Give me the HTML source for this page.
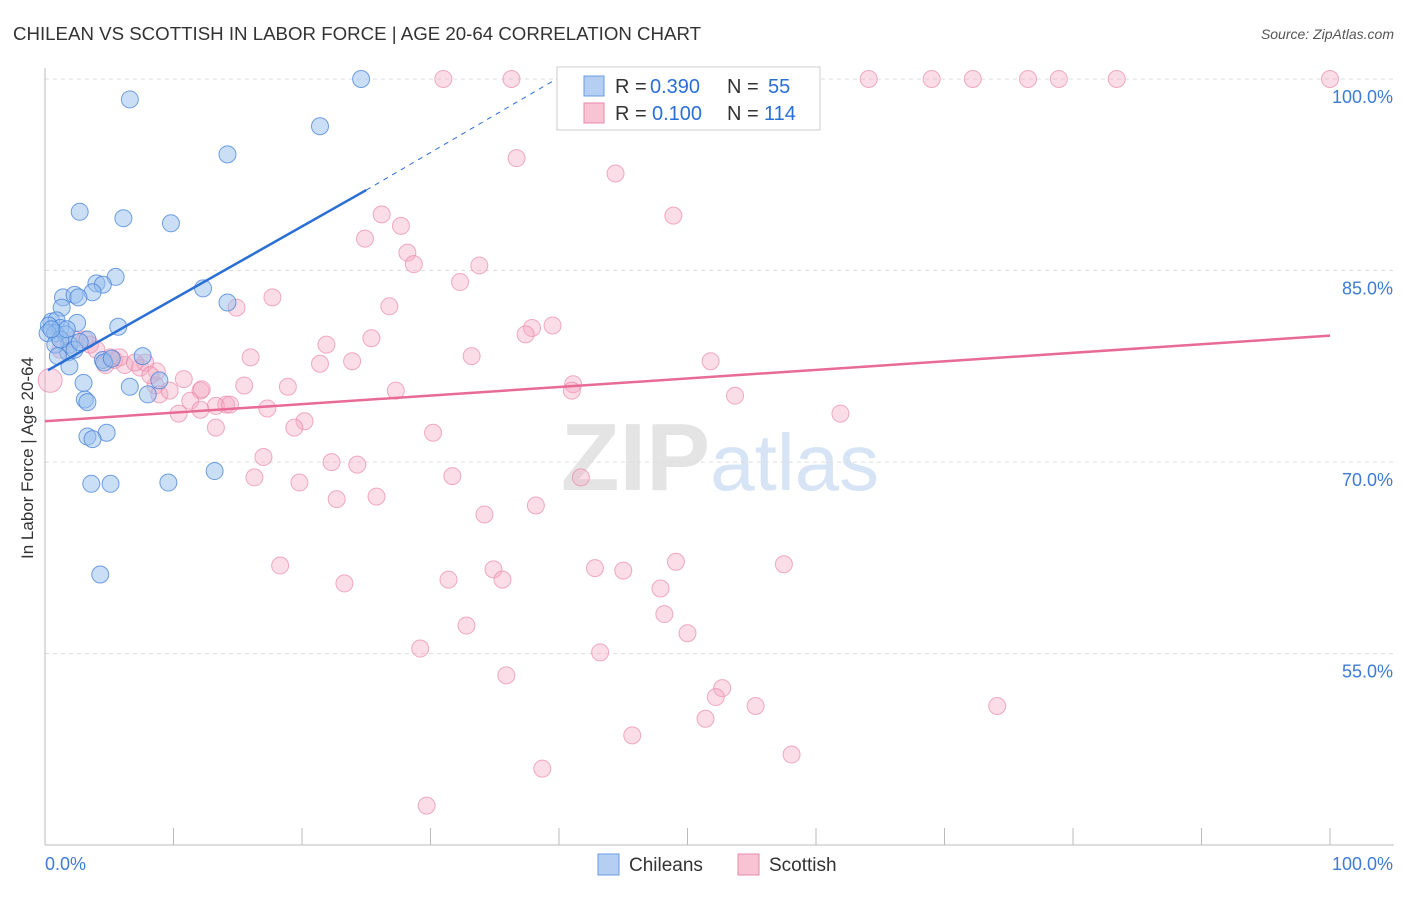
<!DOCTYPE html>
<html><head><meta charset="utf-8"><style>
body{margin:0;background:#fff;font-family:"Liberation Sans",sans-serif;}
svg text{font-family:"Liberation Sans",sans-serif;}
</style></head><body>
<svg id="chart" width="1406" height="892" xmlns="http://www.w3.org/2000/svg">
<text x="13" y="40" font-size="18" fill="#333" textLength="688" lengthAdjust="spacingAndGlyphs">CHILEAN VS SCOTTISH IN LABOR FORCE | AGE 20-64 CORRELATION CHART</text>
<text x="1394" y="39" font-size="14" fill="#555" text-anchor="end" font-style="italic">Source: ZipAtlas.com</text>
<text x="720" y="490" font-size="96" fill="#e4e4e4" text-anchor="middle" font-family="Liberation Serif" font-weight="bold">ZIP<tspan fill="#d6e4f5" font-family="Liberation Sans" font-weight="normal" font-size="80">atlas</tspan></text>
<g id="grid"></g>
<g id="axes"></g>
<g id="marks"></g>
<text transform="translate(33,458) rotate(-90)" font-size="17" fill="#333" text-anchor="middle">In Labor Force | Age 20-64</text>
<g>
<rect x="557" y="67" width="263" height="63" fill="#fff" stroke="#ccc"/>
<rect x="584" y="76" width="20" height="20" fill="#b4cff2" stroke="#6a9be0"/>
<text x="615" y="93" font-size="20" fill="#333">R =</text>
<text x="650" y="93" font-size="20" fill="#2a6fd6">0.390</text>
<text x="727" y="93" font-size="20" fill="#333">N =</text>
<text x="768" y="93" font-size="20" fill="#2a6fd6">55</text>
<rect x="584" y="103" width="20" height="20" fill="#f8c4d4" stroke="#e888a8"/>
<text x="615" y="120" font-size="20" fill="#333">R =</text>
<text x="652" y="120" font-size="20" fill="#2a6fd6">0.100</text>
<text x="727" y="120" font-size="20" fill="#333">N =</text>
<text x="764" y="120" font-size="20" fill="#2a6fd6">114</text>
</g>
<g>
<rect x="598" y="854" width="21" height="21" fill="#b4cff2" stroke="#6a9be0"/>
<text x="629" y="871" font-size="19" fill="#333">Chileans</text>
<rect x="738" y="854" width="21" height="21" fill="#f8c4d4" stroke="#e888a8"/>
<text x="769" y="871" font-size="19" fill="#333">Scottish</text>
</g>
</svg>
<script>
const yTicks=[100,85,70,55];
const xTickLabels=["0.0%","100.0%"];
const blueX=[24.6,6.6,21.4,14.2,2.7,6.1,9.8,5.5,4.0,4.5,1.4,3.7,2.3,2.6,1.3,12.3,14.2,2.5,5.7,0.5,0.9,0.3,1.2,0.8,1.6,3.3,1.9,7.6,1.8,4.5,4.6,1.9,3.0,6.6,8.9,8.0,3.1,3.3,4.8,3.3,3.7,13.2,3.6,5.1,9.6,4.3,0.2,0.8,2.3,1.2,1.7,2.7,1.0,5.2,0.5];
const blueY=[100,98.4,96.3,94.1,89.6,89.1,88.7,84.5,84.0,83.9,82.9,83.3,83.1,82.9,82.1,83.6,82.5,80.9,80.6,81.0,81.1,80.7,80.5,80.1,80.0,79.6,79.2,78.3,78.6,78.0,77.8,77.5,76.2,75.9,76.4,75.3,74.9,74.7,72.3,72.0,71.8,69.3,68.3,68.3,68.4,61.2,80.1,79.2,78.8,79.6,80.4,79.4,78.3,78.1,80.4];
const pinkX=[31.0,36.3,45.3,59.0,64.1,69.0,72.2,76.5,78.9,83.4,100,59.2,36.7,44.4,48.9,26.2,27.7,24.9,28.2,28.7,33.8,32.3,17.7,26.8,14.9,39.5,37.9,37.4,25.4,21.9,16.0,33.2,23.9,21.4,51.8,8.7,10.8,15.5,18.9,27.3,41.1,41.0,53.7,12.1,12.2,11.3,14.1,13.3,17.3,10.4,20.2,19.4,13.3,30.2,61.9,17.0,22.3,24.3,16.3,31.7,41.7,19.8,22.7,25.8,38.2,34.2,18.3,23.3,31.4,34.9,35.6,42.8,45.0,49.1,57.5,47.9,48.2,32.8,50.0,29.2,43.2,35.9,52.7,52.2,55.3,51.4,74.1,45.7,58.1,38.7,29.7,0.4,1.2,2.3,3.5,5.4,6.2,7.4,8.6,8.9,9.7,5.1,4.0,3.1,5.8,7.8,8.2,7.0,14.4,12.1,4.7];
const pinkY=[100,100,100,100,100,100,100,100,100,100,100,100,93.8,92.6,89.3,89.4,88.5,87.5,86.4,85.5,85.4,84.1,82.9,82.2,82.1,80.7,80.5,80.0,79.7,79.2,78.2,78.3,77.9,77.7,77.9,77.1,76.5,76.0,75.9,75.6,76.1,75.6,75.2,75.6,75.7,74.8,74.5,74.4,74.2,73.8,73.2,72.7,72.7,72.3,73.8,70.4,70.0,69.8,68.8,68.9,68.8,68.4,67.1,67.3,66.6,65.9,61.9,60.5,60.8,61.6,60.8,61.7,61.5,62.2,62.0,60.1,58.1,57.2,56.6,55.4,55.1,53.3,52.3,51.6,50.9,49.9,50.9,48.6,47.1,46.0,43.1,76.4,78.8,79.6,79.2,78.0,77.6,77.4,76.0,75.3,75.6,78.2,78.8,79.6,78.2,77.8,76.8,77.8,74.5,74.1,77.6];
const blueTrend=[77.2,91.3,100];
const blueTrendX=[0,25,39.8];
const pinkTrend=[73.2,79.9];
const pinkTrendX=[0,100];

const NS="http://www.w3.org/2000/svg";
const X0=45,X1=1330,YT=79,YPX=12.77;
const sx=v=>X0+(X1-X0)*v/100;
const sy=v=>YT+(100-v)*YPX;
function mk(t,a,p){const e=document.createElementNS(NS,t);for(const k in a)e.setAttribute(k,a[k]);p.appendChild(e);return e;}
const grid=document.getElementById('grid'),axes=document.getElementById('axes'),marks=document.getElementById('marks');
yTicks.forEach(v=>{
 const l=mk('line',{x1:X0,x2:1394,y1:sy(v),y2:sy(v),stroke:'#ddd','stroke-dasharray':'4,4'},grid);
 
 
 const t=mk('text',{x:1393,y:sy(v)+24,'font-size':18,fill:'#3d7bd6','text-anchor':'end'},axes);
 t.textContent=v.toFixed(1)+'%';
 
 
});
mk('line',{x1:X0,x2:X0,y1:68,y2:845,stroke:'#bbb'},axes);
mk('line',{x1:X0,x2:1394,y1:845,y2:845,stroke:'#bbb'},axes);
for(let i=0;i<=10;i++){mk('line',{x1:sx(i*10),x2:sx(i*10),y1:828,y2:845,stroke:'#bbb'},axes);}
const xl=mk('text',{x:45,y:870,'font-size':18,fill:'#3d7bd6'},axes);xl.textContent=xTickLabels[0];


const xr=mk('text',{x:1393,y:870,'font-size':18,fill:'#3d7bd6','text-anchor':'end'},axes);xr.textContent=xTickLabels[1];


pinkX.forEach((x,i)=>{
 const c=mk('circle',{cx:sx(x),cy:sy(pinkY[i]),r:i==91?12:8.5,fill:'rgba(244,170,195,0.4)',stroke:'rgba(232,130,165,0.65)','stroke-width':1},marks);
 
 
});
blueX.forEach((x,i)=>{
 const c=mk('circle',{cx:sx(x),cy:sy(blueY[i]),r:8.5,fill:'rgba(150,190,238,0.5)',stroke:'rgba(70,130,215,0.75)','stroke-width':1},marks);
 
 
});
const bl=mk('line',{x1:sx(blueTrendX[0])+3,y1:sy(blueTrend[0]),x2:sx(blueTrendX[1]),y2:sy(blueTrend[1]),stroke:'#2a6fd6','stroke-width':2.5},marks);


const bd=mk('line',{x1:sx(blueTrendX[1]),y1:sy(blueTrend[1]),x2:sx(blueTrendX[2]),y2:sy(blueTrend[2]),stroke:'#2a6fd6','stroke-width':1,'stroke-dasharray':'5,5'},marks);


const pl=mk('line',{x1:sx(pinkTrendX[0]),y1:sy(pinkTrend[0]),x2:sx(pinkTrendX[1]),y2:sy(pinkTrend[1]),stroke:'#e86a96','stroke-width':2.5},marks);


</script>
</body></html>
